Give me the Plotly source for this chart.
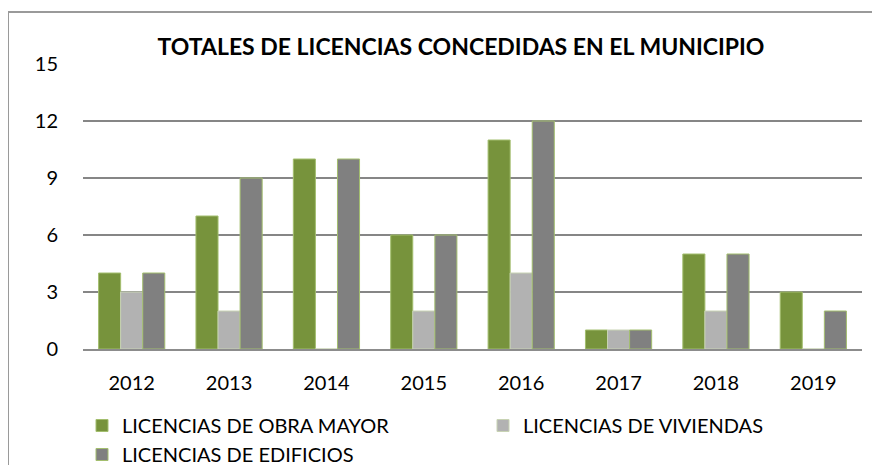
import plotly.graph_objects as go

years = ["2012", "2013", "2014", "2015", "2016", "2017", "2018", "2019"]
obra_mayor = [4, 7, 10, 6, 11, 1, 5, 3]
viviendas = [3, 2, 0, 2, 4, 1, 2, 0]
edificios = [4, 9, 10, 6, 12, 1, 5, 2]
y_ticks = [0, 3, 6, 9, 12, 15]

FONT = "Lato, Open Sans, sans-serif"

# the page body has an 8px margin, so screen coords are shifted by OFF
OFF = 8
W, H = 880 - OFF, 465 - OFF
# plot area on screen: left 83, right 862, top 64, bottom 349
ml = 83 - OFF
mr = W - (862 - OFF)
mt = 64 - OFF
mb = H - (349 - OFF)
pw = W - ml - mr
ph = H - mt - mb


def sx(p):
    # screen x -> paper x
    return (p - OFF - ml) / pw


def sy(p):
    # screen y -> paper y
    return (H - mb - (p - OFF)) / ph


fig = go.Figure()
fig.add_trace(go.Bar(x=years, y=obra_mayor, name="LICENCIAS DE OBRA MAYOR",
                     marker=dict(color="#77933C", line=dict(color="#A3BE6E", width=1))))
fig.add_trace(go.Bar(x=years, y=viviendas, name="LICENCIAS DE VIVIENDAS",
                     marker=dict(color="#B2B2B2", line=dict(color="#C8D3B4", width=1))))
fig.add_trace(go.Bar(x=years, y=edificios, name="LICENCIAS DE EDIFICIOS",
                     marker=dict(color="#808080", line=dict(color="#A3BE6E", width=1))))

fig.update_layout(
    width=W, height=H,
    margin=dict(l=ml, r=mr, t=mt, b=mb, autoexpand=False),
    paper_bgcolor="white", plot_bgcolor="white",
    barmode="group", bargap=0.32, bargroupgap=0,
    font=dict(family=FONT, size=20, color="black"),
    title=dict(text="<b>TOTALES DE LICENCIAS CONCEDIDAS EN EL MUNICIPIO</b>",
               x=(461 - OFF) / W, xanchor="center",
               y=1 - (47 - OFF) / H, yanchor="middle",
               font=dict(family=FONT, size=23, color="black")),
    xaxis=dict(showgrid=False, showline=True, linecolor="#8C8C8C", linewidth=2,
               ticks="", ticklabelstandoff=15, tickfont=dict(size=20)),
    yaxis=dict(range=[0, 15], tickvals=y_ticks, showgrid=True,
               gridcolor="#868686", gridwidth=2, zeroline=False,
               showline=False, ticks="", ticklabelstandoff=24,
               tickfont=dict(size=20)),
    legend=dict(orientation="h", x=sx(82), xanchor="left",
                y=sy(406), yanchor="top", entrywidth=356,
                entrywidthmode="pixels", tracegroupgap=0,
                font=dict(family=FONT, size=20), itemwidth=30,
                bgcolor="rgba(0,0,0,0)"),
    showlegend=True,
)

# outer chart border
fig.add_shape(type="rect", xref="paper", yref="paper",
              x0=sx(8), x1=sx(900), y0=sy(12), y1=sy(490),
              line=dict(color="#9A9A9A", width=2), fillcolor="rgba(0,0,0,0)",
              layer="below")

fig.write_html("out.html")
